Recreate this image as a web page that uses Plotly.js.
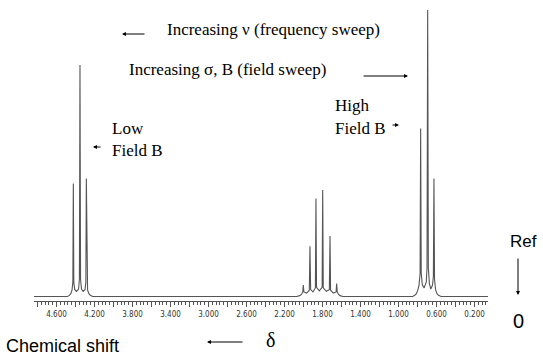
<!DOCTYPE html>
<html>
<head>
<meta charset="utf-8">
<script src="https://cdn.plot.ly/plotly-3.0.1.min.js"></script>
<style>html,body{margin:0;padding:0;background:#fff;}#chart{width:543px;height:358px;}</style>
</head>
<body>
<div id="chart"></div>
<script>
// ---- data (chemical shift in ppm, relative intensity) ----
const lowFieldShift = [4.837,4.485,4.465,4.450,4.437,4.428,4.423,4.418,4.408,4.389,4.368,4.359,4.353,4.347,4.337,4.320,4.300,4.291,4.286,4.281,4.273,4.259,4.244,4.220];
const lowFieldInt   = [0,0,0.4,1.0,2.2,5,39.4,5,2.4,1.8,2.6,6,80.8,6,2.6,1.8,2.4,5,41.2,5,2.2,1.0,0.4,0];

const midShift = [2.070,2.040,2.020,2.008,2.002,1.996,1.967,1.939,1.932,1.925,1.900,1.875,1.869,1.863,1.834,1.804,1.798,1.792,1.760,1.728,1.721,1.715,1.686,1.657,1.651,1.645,1.633,1.616,1.586];
const midInt   = [0,0.3,0.8,1.6,4.0,1.6,1.2,2.2,17.5,2.4,1.6,3,34.2,3.2,2.0,3.2,37.2,3,1.8,2.4,21.1,2.2,1.2,1.6,4.5,1.6,0.8,0.3,0];

const highFieldShift = [0.852,0.829,0.812,0.797,0.784,0.773,0.767,0.761,0.749,0.730,0.708,0.700,0.693,0.686,0.675,0.660,0.642,0.633,0.627,0.621,0.610,0.595,0.579,0.552,0.058];
const highFieldInt   = [0,0.4,1.0,2.2,4,8,58.6,8,4,3.0,5,10,100,10,4.5,2.6,4,7,41.2,6,2.4,1.0,0.4,0,0];

const tickValues = [4.8,4.6,4.4,4.2,4.0,3.8,3.6,3.4,3.2,3.0,2.8,2.6,2.4,2.2,2.0,1.8,1.6,1.4,1.2,1.0,0.8,0.6,0.4,0.2];
const tickLabels = ['','4.600','','4.200','','3.800','','3.400','','3.000','','2.600','','2.200','','1.800','','1.400','','1.000','','0.600','','0.200'];

// ---- layout geometry ----
const M = {l:34, r:55, t:0, b:57};
const W = 543 - M.l - M.r, H = 358 - M.t - M.b;
function px(x){ return (x - M.l) / W; }
function py(y){ return (H - (y - M.t)) / H; }

const serif = {family:'Liberation Serif, Times New Roman, serif', size:17, color:'#000'};
const sans  = {family:'Liberation Sans, Arial, sans-serif', size:17, color:'#000'};

function txt(t, x, y, font, xa){
  return {text:t, x:px(x), y:py(y), xref:'paper', yref:'paper', showarrow:false,
          xanchor:xa||'left', yanchor:'middle', font:font, borderpad:0};
}
function arr(hx, hy, tx, ty){
  return {text:'', x:px(hx), y:py(hy), xref:'paper', yref:'paper', showarrow:true,
          ax:tx-hx, ay:ty-hy, axref:'pixel', ayref:'pixel',
          arrowhead:2, arrowsize:0.8, arrowwidth:1, arrowcolor:'#000', standoff:0, startstandoff:0};
}

const shift = lowFieldShift.concat(midShift, highFieldShift);
const inten = lowFieldInt.concat(midInt, highFieldInt);

const trace = {x:shift, y:inten, type:'scatter', mode:'lines',
  line:{color:'#555', width:1.1}, hoverinfo:'skip'};

const layout = {
  width:543, height:358, margin:M, paper_bgcolor:'#fff', plot_bgcolor:'#fff',
  showlegend:false,
  xaxis:{range:[4.837,0.058], showgrid:false, zeroline:false, showline:true, linecolor:'#555', linewidth:1,
    ticks:'outside', ticklen:5, tickwidth:1, tickcolor:'#555',
    tickmode:'array', tickvals:tickValues, ticktext:tickLabels,
    tickfont:{family:'Liberation Sans Narrow, DejaVu Sans Condensed, Arial Narrow, sans-serif', size:8, color:'#333'},
    minor:{tickmode:'linear', tick0:0, dtick:0.04, ticks:'outside', ticklen:2.5, tickcolor:'#555', showgrid:false}
  },
  yaxis:{visible:false, range:[-1.57,103.49], fixedrange:true},
  annotations:[
    txt('Increasing ν (frequency sweep)', 166, 30, serif),
    arr(122,34,146,34),
    txt('Increasing σ, B (field sweep)', 128, 70, serif),
    arr(408,76,362,76),
    txt('Low', 111, 128, serif),
    txt('Field B', 111, 150, serif),
    arr(93,147,102,147),
    txt('High', 334, 106, serif),
    txt('Field B', 334, 128, serif),
    arr(399,125,391,125),
    txt('Ref', 523, 241, sans, 'center'),
    arr(518,295,518,257),
    txt('0', 518, 321, Object.assign({}, sans, {size:20}), 'center'),
    txt('Chemical shift', 5, 346, Object.assign({}, sans, {size:18})),
    arr(207,342,244,342),
    txt('δ', 270, 340, Object.assign({}, serif, {size:20}), 'center')
  ]
};

Plotly.newPlot('chart', [trace], layout, {staticPlot:true, displayModeBar:false});
</script>
</body>
</html>
